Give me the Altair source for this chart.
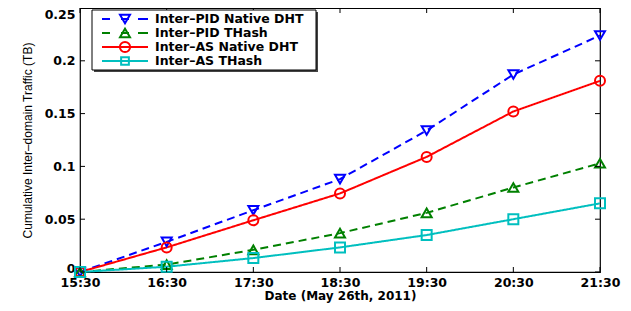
import altair as alt
import pandas as pd

times = ["15:30", "16:30", "17:30", "18:30", "19:30", "20:30", "21:30"]
series = ["Inter–PID Native DHT", "Inter–PID THash", "Inter–AS Native DHT", "Inter–AS THash"]
pid_native = [0, 0.0285, 0.0585, 0.088, 0.134, 0.187, 0.224]
pid_thash = [0, 0.007, 0.021, 0.0368, 0.056, 0.080, 0.103]
as_native = [0, 0.0233, 0.049, 0.0744, 0.109, 0.152, 0.181]
as_thash = [0, 0.005, 0.0132, 0.0233, 0.035, 0.050, 0.065]
y_ticks = [0, 0.05, 0.1, 0.15, 0.2, 0.25]

colors = ["#0000ff", "#008000", "#ff0000", "#00bfbf"]
dashes = [[8, 5], [8, 5], [1, 0], [1, 0]]
shapes = ["triangle-down", "triangle-up", "circle", "square"]
sizes = [100, 100, 105, 60]
dashed = [True, True, False, False]

values = pid_native + pid_thash + as_native + as_thash
df = pd.DataFrame({
    "time": times * len(series),
    "series": [s for s in series for _ in times],
    "value": values,
})
xt = pd.DataFrame({"time": times})
yt = pd.DataFrame({"value": y_ticks})

W, H = 520, 264
LBL = dict(labelFont="DejaVu Sans", labelFontWeight="bold", labelFontSize=12.5, labelColor="black")

x_enc = alt.X(
    "time:O", sort=times, scale=alt.Scale(type="point", padding=0),
    axis=alt.Axis(title="Date (May 26th, 2011)", labelAngle=0, ticks=False, domain=False,
                  grid=False, labelPadding=4, titlePadding=2, titleFont="DejaVu Sans",
                  titleFontWeight="bold", titleFontSize=12, titleColor="black", **LBL),
)
y_enc = alt.Y(
    "value:Q", scale=alt.Scale(domain=[0, 0.25], nice=False),
    axis=alt.Axis(values=y_ticks, format="~g", title="Cumulative Inter–domain Traffic (TB)",
                  ticks=False, domain=False, grid=False, labelPadding=5, titlePadding=10,
                  labelBaseline={"expr": "datum.value >= 0.25 ? 'top' : (datum.value == 0 ? 'alphabetic' : 'middle')"},
                  titleFont="Liberation Sans", titleFontWeight="normal", titleFontSize=12,
                  titleColor="black", **LBL),
)
x_plain = alt.X("time:O", sort=times)
y_plain = alt.Y("value:Q")

color_scale = alt.Scale(domain=series, range=colors)

lines = alt.Chart(df).mark_line(strokeWidth=2).encode(
    x=x_enc, y=y_enc,
    color=alt.Color("series:N", scale=color_scale, legend=None),
    strokeDash=alt.StrokeDash("series:N", scale=alt.Scale(domain=series, range=dashes), legend=None),
)

points = alt.Chart(df).mark_point(filled=False, strokeWidth=2, opacity=1).encode(
    x=x_plain, y=y_plain,
    color=alt.Color("series:N", scale=color_scale, legend=None),
    shape=alt.Shape("series:N", scale=alt.Scale(domain=series, range=shapes), legend=None),
    size=alt.Size("series:O", scale=alt.Scale(domain=series, range=sizes), legend=None),
)

tick_b = alt.Chart(xt).mark_rule(color="black", strokeWidth=1).encode(
    x=x_plain, y=alt.value(H), y2=alt.value(H - 5))
tick_t = alt.Chart(xt).mark_rule(color="black", strokeWidth=1).encode(
    x=x_plain, y=alt.value(0), y2=alt.value(5))
tick_l = alt.Chart(yt).mark_rule(color="black", strokeWidth=1).encode(
    y=y_plain, x=alt.value(0), x2=alt.value(5))
tick_r = alt.Chart(yt).mark_rule(color="black", strokeWidth=1).encode(
    y=y_plain, x=alt.value(W - 5), x2=alt.value(W))

# ---- manual MATLAB-style legend box ----
LX0, LX1, LY0, LY1 = 12, 236, 2, 62
row_y = [11, 25, 39, 53]
seg_solid = [(22, 68)]
seg_dash = [(22, 30), (41, 49), (58, 68)]
sym_x, txt_x = 45, 75

one = pd.DataFrame({"k": [0]})
legend_layers = [
    alt.Chart(one).mark_rect(fill="#444444", stroke=None).encode(
        x=alt.value(LX0 + 2), x2=alt.value(LX1 + 2), y=alt.value(LY0 + 2), y2=alt.value(LY1 + 2)),
    alt.Chart(one).mark_rect(fill="white", stroke="black", strokeWidth=1).encode(
        x=alt.value(LX0), x2=alt.value(LX1), y=alt.value(LY0), y2=alt.value(LY1)),
]
for i, s in enumerate(series):
    d = pd.DataFrame({"series": [s]})
    for (a, b) in (seg_dash if dashed[i] else seg_solid):
        legend_layers.append(
            alt.Chart(d).mark_rule(color=colors[i], strokeWidth=2).encode(
                x=alt.value(a), x2=alt.value(b), y=alt.value(row_y[i])))
    legend_layers.append(
        alt.Chart(d).mark_point(filled=False, strokeWidth=2, opacity=1, color=colors[i],
                                shape=shapes[i], size=sizes[i]).encode(
            x=alt.value(sym_x), y=alt.value(row_y[i])))
    legend_layers.append(
        alt.Chart(d).mark_text(align="left", baseline="middle", font="DejaVu Sans",
                               fontWeight="bold", fontSize=12.5, color="black").encode(
            x=alt.value(txt_x), y=alt.value(row_y[i]), text="series:N"))

chart = alt.layer(lines, points, tick_b, tick_t, tick_l, tick_r, *legend_layers).resolve_scale(
    shape="independent", size="independent", strokeDash="independent"
).properties(
    width=W, height=H,
    padding={"left": 72, "top": 0, "right": 23, "bottom": 31},
    autosize=alt.AutoSizeParams(type="none"),
    background="white",
).configure_view(stroke="black", strokeWidth=1.2)

chart.save("out.html", embed_options={"renderer": "svg", "actions": False})
